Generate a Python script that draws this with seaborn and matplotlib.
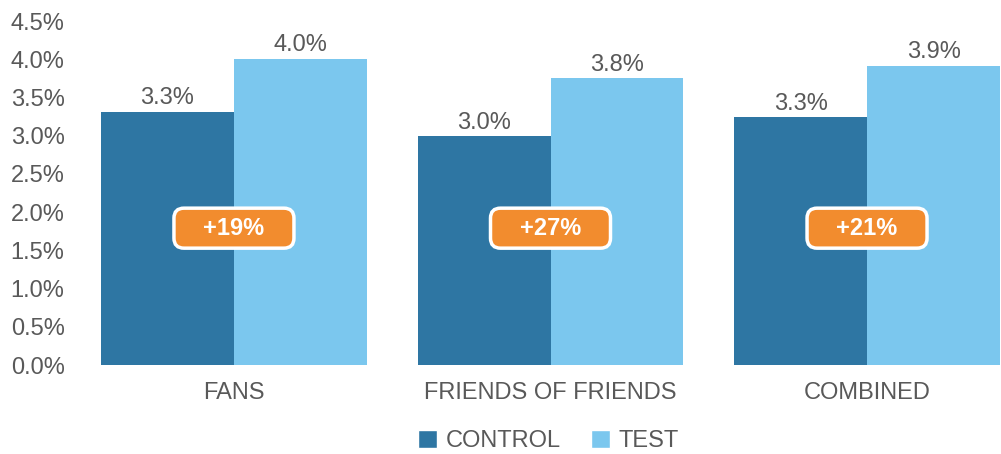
import pandas as pd
import numpy as np
import matplotlib
matplotlib.use('Agg')
import matplotlib.pyplot as plt
import seaborn as sns
from matplotlib.patches import Patch, FancyBboxPatch

categories = ['FANS', 'FRIENDS OF FRIENDS', 'COMBINED']
control = [3.31, 2.99, 3.24]
test = [4.00, 3.75, 3.91]
control_labels = ['3.3%', '3.0%', '3.3%']
test_labels = ['4.0%', '3.8%', '3.9%']
lift_labels = ['+19%', '+27%', '+21%']
lift_y = 1.79

sns.set_style('white')
plt.rcParams['font.family'] = ['Liberation Sans', 'DejaVu Sans']

df = pd.DataFrame({
    'group': categories * 2,
    'rate': control + test,
    'series': ['CONTROL'] * 3 + ['TEST'] * 3,
})

colors = {'CONTROL': '#2E76A3', 'TEST': '#7BC7EE'}
grey = '#595959'
fs = 17

fig = plt.figure(figsize=(10.01, 4.54), dpi=100)
ax = fig.add_axes([101 / 1001, 89 / 454, 899 / 1001, 344 / 454])

sns.barplot(data=df, x='group', y='rate', hue='series', palette=colors,
            width=0.84, saturation=1, legend=False, ax=ax, linewidth=0)

ax.set_xlim(-0.42, 2.42)
ax.set_ylim(0, 4.5)
ax.set_yticks(np.arange(0, 4.51, 0.5))
ax.set_yticklabels([f'{v:.1f}%' for v in np.arange(0, 4.51, 0.5)])
# pad is in points: ~91 px from the axis to the label's left edge
ax.tick_params(axis='y', length=0, labelsize=fs, labelcolor=grey, pad=65)
for lbl in ax.get_yticklabels():
    lbl.set_horizontalalignment('left')
ax.tick_params(axis='x', length=0, labelsize=fs, labelcolor=grey, pad=12)
ax.set_xlabel('')
ax.set_ylabel('')
sns.despine(ax=ax, left=True, bottom=True)

# value labels above bars
for container, labels in zip(ax.containers, [control_labels, test_labels]):
    ax.bar_label(container, labels=labels, padding=2, fontsize=fs, color=grey)

# lift badges, sized in pixels
px_x = 2.84 / 899
px_y = 4.5 / 344
bw, bh, rad = 120 * px_x, 40 * px_y, 10 * px_x
for i, txt in enumerate(lift_labels):
    badge = FancyBboxPatch((i - bw / 2, lift_y - bh / 2), bw, bh,
                           boxstyle=f'round,pad=0,rounding_size={rad}',
                           mutation_aspect=px_y / px_x,
                           facecolor='#F28C2E', edgecolor='white',
                           linewidth=2.5, zorder=5)
    ax.add_patch(badge)
    ax.text(i, lift_y, txt, ha='center', va='center', fontsize=fs,
            fontweight='bold', color='white', zorder=6)

handles = [Patch(facecolor=colors[k], label=k) for k in ['CONTROL', 'TEST']]
leg = fig.legend(handles=handles, loc='center', bbox_to_anchor=(0.548, 0.028),
                 ncol=2, frameon=False, fontsize=fs, handlelength=0.8,
                 handleheight=0.8, handletextpad=0.35, columnspacing=1.3)
for t in leg.get_texts():
    t.set_color(grey)

fig.savefig('out.png', dpi=100)
